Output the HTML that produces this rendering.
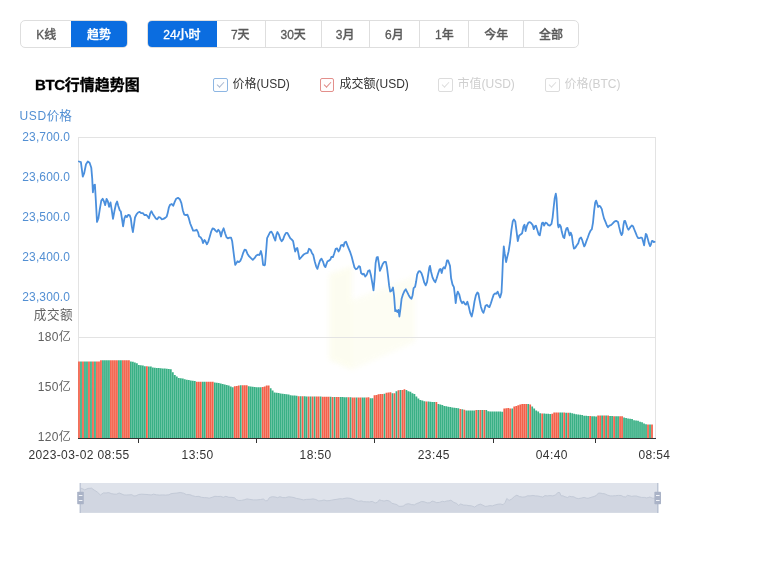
<!DOCTYPE html>
<html lang="zh-CN">
<head>
<meta charset="utf-8">
<title>BTC行情趋势图</title>
<style>
html,body{margin:0;padding:0;background:#fff;}
body{width:780px;height:563px;position:relative;overflow:hidden;font-family:"Liberation Sans","Noto Sans CJK SC",sans-serif;}
.tabs{position:absolute;top:20px;height:28px;display:flex;box-sizing:border-box;border:1px solid #dedede;border-radius:5px;overflow:hidden;background:#fff;}
.tabs span{display:block;box-sizing:border-box;height:26px;line-height:28px;font-size:12px;color:#5a5a5a;font-weight:500;-webkit-text-stroke:0.3px currentColor;text-align:center;border-left:1px solid #dedede;white-space:nowrap;}
.tabs span:first-child{border-left:none;}
.tabs span.on{background:#0b6de0;color:#fff;margin:-1px;height:28px;line-height:30px;border-left:none;}
.tabs span.on + span{border-left:none;}
#t1{left:20px;width:107.6px;}
#t2{left:147px;width:432px;}
h3{position:absolute;left:35px;top:74px;margin:0;font-size:15px;line-height:22px;font-weight:bold;color:#000;-webkit-text-stroke:0.3px #000;white-space:nowrap;}
.lg{position:absolute;top:75px;height:20px;line-height:20px;font-size:12px;color:#333;white-space:nowrap;}
.lg i{position:absolute;left:0;top:3px;width:12.6px;height:11.6px;border:1px solid #8db6e3;border-radius:2px;background:#fdfeff;}
.lg i:after{content:"";position:absolute;left:2.6px;top:2.8px;width:5.6px;height:2.8px;border-left:1px solid #a9b8d0;border-bottom:1px solid #a9b8d0;transform:rotate(-47deg);transform-origin:50% 50%;}
.lg b{font-weight:normal;position:absolute;left:19.5px;top:-1px;}
.lg.r i{border-color:#e38f8b;background:#fffdfd;width:11.8px;} .lg.r i:after{border-color:#df8a86;}
.lg.off{color:#cfcfcf;} .lg.off i{border-color:#dcdcdc;background:#fff;} .lg.off i:after{border-color:#dedede;}
svg{position:absolute;left:0;top:0;}
svg text{font-family:"Liberation Sans","Noto Sans CJK SC",sans-serif;}
</style>
</head>
<body>
<div class="tabs" id="t1"><span style="width:51px">K线</span><span class="on" style="width:57.6px">趋势</span></div>
<div class="tabs" id="t2"><span class="on" style="width:70px">24小时</span><span style="width:49px">7天</span><span style="width:56px">30天</span><span style="width:48px">3月</span><span style="width:51px">6月</span><span style="width:49px">1年</span><span style="width:55px">今年</span><span style="width:55px">全部</span></div>
<h3><span style="letter-spacing:-0.35px">BTC</span>行情趋势图</h3>
<div class="lg" style="left:213px"><i></i><b>价格(USD)</b></div>
<div class="lg r" style="left:320px"><i></i><b>成交额(USD)</b></div>
<div class="lg off" style="left:438px"><i></i><b>市值(USD)</b></div>
<div class="lg off" style="left:545px"><i></i><b>价格(BTC)</b></div>

<svg width="780" height="563" viewBox="0 0 780 563">
<defs><filter id="wb" x="-20%" y="-20%" width="140%" height="140%"><feGaussianBlur stdDeviation="2.5"/></filter></defs>
<g opacity="0.42" filter="url(#wb)"><path d="M329 274 L352 266 L352 370 L329 360 Z" fill="#fafadc"/><path d="M352 300 L415 276 L415 342 L352 370 Z" fill="#fbfbe4"/></g>
<g stroke="#e3e3e3" stroke-width="1" fill="none" shape-rendering="crispEdges">
<line x1="78" y1="137.5" x2="655" y2="137.5"/>
<line x1="78" y1="337.5" x2="655" y2="337.5"/>
<line x1="78.5" y1="137" x2="78.5" y2="438"/>
<line x1="655.5" y1="137" x2="655.5" y2="438"/>
</g>
<path fill="#39b085" d="M80.12 438V361.5h1.75V438zM84.11 438V361.5h1.75V438zM86.11 438V361.5h1.75V438zM90.10 438V361.5h1.75V438zM94.10 438V361.5h1.75V438zM102.08 438V360.2h1.75V438zM104.08 438V360.2h1.75V438zM106.07 438V360.2h1.75V438zM108.07 438V360.2h1.75V438zM118.05 438V360.2h1.75V438zM120.05 438V360.2h1.75V438zM130.03 438V361.5h1.75V438zM132.03 438V361.8h1.75V438zM134.03 438V362.6h1.75V438zM136.02 438V363.2h1.75V438zM138.02 438V365.0h1.75V438zM140.02 438V365.2h1.75V438zM142.01 438V365.4h1.75V438zM144.01 438V366.2h1.75V438zM148.00 438V366.5h1.75V438zM150.00 438V366.6h1.75V438zM152.00 438V367.6h1.75V438zM153.99 438V367.8h1.75V438zM155.99 438V367.9h1.75V438zM157.98 438V368.1h1.75V438zM159.98 438V368.2h1.75V438zM161.98 438V368.4h1.75V438zM163.97 438V368.6h1.75V438zM165.97 438V368.8h1.75V438zM167.97 438V369.0h1.75V438zM169.96 438V369.2h1.75V438zM171.96 438V372.2h1.75V438zM173.96 438V374.9h1.75V438zM175.95 438V376.6h1.75V438zM177.95 438V378.0h1.75V438zM179.95 438V378.3h1.75V438zM181.94 438V378.6h1.75V438zM183.94 438V379.3h1.75V438zM185.94 438V379.7h1.75V438zM187.93 438V380.0h1.75V438zM189.93 438V380.4h1.75V438zM191.93 438V380.7h1.75V438zM193.92 438V381.1h1.75V438zM201.91 438V381.8h1.75V438zM203.91 438V381.8h1.75V438zM213.89 438V382.5h1.75V438zM215.88 438V382.8h1.75V438zM217.88 438V383.1h1.75V438zM219.88 438V383.4h1.75V438zM221.87 438V384.1h1.75V438zM223.87 438V384.6h1.75V438zM225.87 438V385.0h1.75V438zM227.86 438V385.5h1.75V438zM229.86 438V386.5h1.75V438zM231.86 438V387.3h1.75V438zM239.84 438V385.3h1.75V438zM247.83 438V386.3h1.75V438zM249.83 438V386.5h1.75V438zM251.82 438V386.8h1.75V438zM253.82 438V387.0h1.75V438zM255.82 438V387.3h1.75V438zM257.81 438V387.3h1.75V438zM259.81 438V387.3h1.75V438zM269.79 438V388.2h1.75V438zM271.79 438V390.5h1.75V438zM273.78 438V392.4h1.75V438zM275.78 438V392.7h1.75V438zM277.78 438V393.0h1.75V438zM279.77 438V393.5h1.75V438zM281.77 438V393.7h1.75V438zM283.77 438V393.9h1.75V438zM285.76 438V394.2h1.75V438zM287.76 438V394.4h1.75V438zM289.76 438V395.3h1.75V438zM291.75 438V395.5h1.75V438zM293.75 438V395.6h1.75V438zM295.75 438V395.8h1.75V438zM299.74 438V396.2h1.75V438zM303.73 438V396.3h1.75V438zM305.73 438V396.4h1.75V438zM309.72 438V396.4h1.75V438zM313.71 438V396.5h1.75V438zM319.70 438V396.6h1.75V438zM329.69 438V396.8h1.75V438zM333.68 438V396.9h1.75V438zM339.67 438V397.1h1.75V438zM341.67 438V397.1h1.75V438zM343.66 438V397.2h1.75V438zM345.66 438V397.2h1.75V438zM349.65 438V397.3h1.75V438zM355.64 438V397.5h1.75V438zM361.63 438V397.6h1.75V438zM363.63 438V397.5h1.75V438zM369.62 438V398.2h1.75V438zM371.61 438V398.2h1.75V438zM383.59 438V393.7h1.75V438zM391.58 438V393.2h1.75V438zM395.57 438V391.3h1.75V438zM399.57 438V390.0h1.75V438zM405.56 438V390.0h1.75V438zM407.55 438V391.2h1.75V438zM409.55 438V391.8h1.75V438zM411.55 438V393.3h1.75V438zM413.54 438V394.0h1.75V438zM415.54 438V396.6h1.75V438zM417.54 438V398.6h1.75V438zM419.53 438V400.0h1.75V438zM421.53 438V400.6h1.75V438zM423.52 438V401.3h1.75V438zM427.52 438V401.6h1.75V438zM429.51 438V401.7h1.75V438zM431.51 438V401.9h1.75V438zM433.51 438V402.0h1.75V438zM437.50 438V404.0h1.75V438zM439.50 438V404.4h1.75V438zM441.49 438V404.9h1.75V438zM443.49 438V406.0h1.75V438zM445.49 438V406.3h1.75V438zM447.48 438V406.7h1.75V438zM449.48 438V407.0h1.75V438zM451.48 438V407.5h1.75V438zM453.47 438V407.8h1.75V438zM455.47 438V408.0h1.75V438zM457.47 438V408.3h1.75V438zM461.46 438V409.3h1.75V438zM465.45 438V410.4h1.75V438zM467.45 438V410.4h1.75V438zM469.45 438V410.5h1.75V438zM471.44 438V410.6h1.75V438zM473.44 438V410.6h1.75V438zM477.43 438V410.0h1.75V438zM481.42 438V410.1h1.75V438zM485.42 438V410.1h1.75V438zM487.41 438V411.3h1.75V438zM489.41 438V411.4h1.75V438zM491.41 438V411.4h1.75V438zM493.40 438V411.5h1.75V438zM495.40 438V411.5h1.75V438zM497.40 438V411.6h1.75V438zM499.39 438V411.6h1.75V438zM501.39 438V411.7h1.75V438zM511.37 438V408.4h1.75V438zM527.34 438V404.0h1.75V438zM531.34 438V406.6h1.75V438zM533.33 438V408.4h1.75V438zM535.33 438V410.6h1.75V438zM537.33 438V411.6h1.75V438zM539.32 438V413.2h1.75V438zM543.32 438V413.5h1.75V438zM545.31 438V413.7h1.75V438zM547.31 438V413.8h1.75V438zM549.31 438V414.0h1.75V438zM559.29 438V412.6h1.75V438zM561.29 438V412.6h1.75V438zM565.28 438V412.7h1.75V438zM569.27 438V412.7h1.75V438zM571.27 438V413.3h1.75V438zM573.27 438V413.7h1.75V438zM575.26 438V414.3h1.75V438zM577.26 438V414.5h1.75V438zM579.25 438V414.8h1.75V438zM581.25 438V415.0h1.75V438zM583.25 438V415.7h1.75V438zM585.24 438V415.8h1.75V438zM587.24 438V415.9h1.75V438zM591.23 438V416.2h1.75V438zM593.23 438V416.3h1.75V438zM595.23 438V416.4h1.75V438zM601.22 438V415.5h1.75V438zM605.21 438V415.4h1.75V438zM609.20 438V416.1h1.75V438zM611.20 438V416.1h1.75V438zM615.19 438V416.2h1.75V438zM617.19 438V416.2h1.75V438zM623.18 438V417.5h1.75V438zM625.18 438V418.0h1.75V438zM627.17 438V418.6h1.75V438zM629.17 438V418.8h1.75V438zM631.16 438V419.0h1.75V438zM633.16 438V420.2h1.75V438zM635.16 438V420.4h1.75V438zM637.15 438V420.7h1.75V438zM639.15 438V421.8h1.75V438zM641.15 438V422.2h1.75V438zM643.14 438V423.4h1.75V438zM645.14 438V424.3h1.75V438zM649.13 438V424.5h1.75V438z"/>
<path fill="#f3614a" d="M78.12 438V361.5h1.75V438zM82.12 438V361.5h1.75V438zM88.11 438V361.5h1.75V438zM92.10 438V361.5h1.75V438zM96.09 438V361.5h1.75V438zM98.09 438V361.5h1.75V438zM100.09 438V360.2h1.75V438zM110.07 438V360.2h1.75V438zM112.06 438V360.2h1.75V438zM114.06 438V360.2h1.75V438zM116.06 438V360.2h1.75V438zM122.05 438V360.2h1.75V438zM124.04 438V360.2h1.75V438zM126.04 438V360.2h1.75V438zM128.04 438V360.2h1.75V438zM146.01 438V366.3h1.75V438zM195.92 438V381.8h1.75V438zM197.92 438V381.8h1.75V438zM199.91 438V381.8h1.75V438zM205.90 438V381.8h1.75V438zM207.90 438V381.8h1.75V438zM209.89 438V381.8h1.75V438zM211.89 438V381.8h1.75V438zM233.85 438V386.2h1.75V438zM235.85 438V386.0h1.75V438zM237.85 438V385.4h1.75V438zM241.84 438V385.3h1.75V438zM243.84 438V385.2h1.75V438zM245.83 438V385.2h1.75V438zM261.80 438V387.0h1.75V438zM263.80 438V386.6h1.75V438zM265.80 438V385.6h1.75V438zM267.79 438V385.5h1.75V438zM297.74 438V396.2h1.75V438zM301.74 438V396.3h1.75V438zM307.73 438V396.4h1.75V438zM311.72 438V396.5h1.75V438zM315.71 438V396.6h1.75V438zM317.71 438V396.6h1.75V438zM321.70 438V396.7h1.75V438zM323.70 438V396.7h1.75V438zM325.69 438V396.8h1.75V438zM327.69 438V396.8h1.75V438zM331.68 438V396.9h1.75V438zM335.68 438V397.0h1.75V438zM337.67 438V397.0h1.75V438zM347.66 438V397.3h1.75V438zM351.65 438V397.4h1.75V438zM353.65 438V397.4h1.75V438zM357.64 438V397.5h1.75V438zM359.64 438V397.6h1.75V438zM365.62 438V397.4h1.75V438zM367.62 438V397.3h1.75V438zM373.61 438V395.3h1.75V438zM375.61 438V395.0h1.75V438zM377.60 438V394.2h1.75V438zM379.60 438V394.0h1.75V438zM381.60 438V393.9h1.75V438zM385.59 438V392.8h1.75V438zM387.59 438V392.5h1.75V438zM389.58 438V392.2h1.75V438zM393.58 438V393.3h1.75V438zM397.57 438V390.2h1.75V438zM401.56 438V389.9h1.75V438zM403.56 438V389.3h1.75V438zM425.52 438V401.5h1.75V438zM435.50 438V402.1h1.75V438zM459.46 438V408.9h1.75V438zM463.46 438V409.7h1.75V438zM475.43 438V410.0h1.75V438zM479.43 438V410.0h1.75V438zM483.42 438V410.1h1.75V438zM503.39 438V408.6h1.75V438zM505.38 438V408.3h1.75V438zM507.38 438V408.0h1.75V438zM509.38 438V408.6h1.75V438zM513.37 438V406.6h1.75V438zM515.37 438V406.0h1.75V438zM517.36 438V405.3h1.75V438zM519.36 438V404.6h1.75V438zM521.36 438V404.0h1.75V438zM523.35 438V404.0h1.75V438zM525.35 438V404.0h1.75V438zM529.34 438V404.6h1.75V438zM541.32 438V413.4h1.75V438zM551.30 438V413.8h1.75V438zM553.30 438V412.6h1.75V438zM555.30 438V412.5h1.75V438zM557.29 438V412.4h1.75V438zM563.28 438V412.6h1.75V438zM567.28 438V412.7h1.75V438zM589.24 438V416.0h1.75V438zM597.22 438V415.6h1.75V438zM599.22 438V415.6h1.75V438zM603.21 438V415.5h1.75V438zM607.21 438V415.4h1.75V438zM613.20 438V416.2h1.75V438zM619.19 438V416.3h1.75V438zM621.18 438V416.3h1.75V438zM647.14 438V424.4h1.75V438zM651.13 438V424.6h1.75V438z"/>
<g stroke="#333" stroke-width="1" shape-rendering="crispEdges"><line x1="78" y1="438.5" x2="656" y2="438.5"/>
<line x1="138.5" y1="438" x2="138.5" y2="443"/>
<line x1="256.5" y1="438" x2="256.5" y2="443"/>
<line x1="374.5" y1="438" x2="374.5" y2="443"/>
<line x1="493.5" y1="438" x2="493.5" y2="443"/>
<line x1="595.5" y1="438" x2="595.5" y2="443"/>
</g>
<polyline fill="none" stroke="#4a8fdd" stroke-width="1.8" stroke-linejoin="round" stroke-linecap="round" points="78.9,161.5 80.9,162.1 82.8,176.6 84.2,173.1 86.0,164.2 87.8,161.5 89.6,162.8 91.3,167.8 92.2,178.4 92.9,192.3 93.8,185.5 94.9,184.6 95.6,196.2 97.0,221.9 98.4,218.4 99.9,208.6 101.3,200.6 102.7,198.8 104.0,201.5 105.2,205.1 106.6,198.8 107.9,201.5 109.1,206.8 110.5,202.4 111.8,210.4 113.0,218.9 114.4,211.3 115.9,204.2 117.1,201.5 118.3,206.0 119.8,210.4 120.8,211.3 121.9,218.4 123.1,226.4 124.4,218.4 125.6,215.7 126.9,217.1 128.3,214.8 129.7,215.4 130.8,218.4 131.8,226.4 132.9,232.2 134.0,224.6 135.0,217.5 136.5,214.3 138.1,212.5 139.7,211.8 141.1,213.1 142.9,213.1 144.6,215.2 146.0,214.8 147.5,216.1 148.9,218.4 150.3,213.1 151.4,211.3 152.8,213.9 154.2,216.1 155.8,218.4 157.2,219.3 158.8,217.1 160.3,217.5 161.7,219.3 163.5,218.9 165.2,217.9 166.7,216.6 167.7,213.1 168.8,207.7 170.0,204.9 171.8,204.0 173.2,205.8 174.6,202.2 176.2,198.7 178.0,197.8 179.8,199.2 181.4,203.1 182.8,210.2 184.2,214.6 186.0,215.2 187.4,214.6 188.8,218.2 190.2,223.5 191.7,227.1 193.1,230.6 194.9,230.6 196.6,229.7 198.1,232.4 199.1,236.5 200.6,237.2 202.0,239.5 203.0,243.1 204.5,240.0 205.5,241.3 206.9,244.3 208.4,241.3 209.8,236.5 211.2,231.5 212.6,228.3 214.0,228.8 215.5,230.6 216.9,231.9 218.3,229.7 219.7,231.5 221.0,236.5 222.2,231.5 223.6,228.3 225.1,233.3 226.5,237.2 227.9,238.3 229.7,237.7 231.1,237.7 232.2,241.3 233.2,249.3 234.3,258.2 235.2,264.9 236.4,263.1 237.5,261.3 238.9,262.1 240.3,260.8 241.8,257.3 243.2,252.8 244.6,249.6 246.0,250.2 247.4,253.7 249.2,256.4 251.0,258.2 252.8,259.9 254.5,258.2 256.3,255.5 258.1,254.6 259.5,255.0 260.9,251.0 262.0,255.5 263.1,264.9 264.5,265.3 265.0,264.8 266.1,251.5 267.1,238.2 268.6,235.2 270.0,232.3 271.4,231.6 272.8,234.1 274.2,238.2 275.3,240.5 276.4,234.6 277.4,232.0 278.9,234.6 280.3,239.1 281.7,241.2 283.1,239.4 284.5,235.5 286.0,232.9 287.4,232.9 288.8,235.5 290.2,238.2 291.6,239.4 293.1,241.2 294.1,246.5 295.2,251.5 296.3,248.8 297.3,248.0 298.4,253.3 299.5,259.0 300.9,257.7 302.3,256.0 304.1,254.2 305.9,253.3 307.6,252.9 309.0,248.8 310.5,249.7 311.9,252.9 313.3,255.1 314.7,261.3 316.2,266.6 317.4,268.9 318.6,264.8 320.1,260.4 321.5,258.6 322.9,261.3 324.3,265.7 325.4,267.1 326.5,263.9 327.5,261.3 328.9,260.7 330.4,259.5 331.4,256.8 332.9,257.2 334.3,253.3 335.7,248.8 337.1,248.3 338.5,251.5 339.6,249.7 341.0,245.3 342.4,244.8 343.5,246.5 344.6,242.6 346.0,241.7 347.4,245.3 348.8,248.8 350.3,252.4 351.7,256.8 353.1,262.2 354.5,267.5 355.9,269.3 357.4,268.4 358.8,266.1 360.0,266.7 361.1,273.0 362.5,274.4 363.9,273.8 365.3,276.5 366.7,274.7 368.2,270.8 369.6,270.3 371.0,275.6 372.4,283.6 373.5,290.4 374.6,278.3 375.6,263.2 376.7,257.3 377.8,257.0 378.8,263.2 379.9,270.8 381.3,267.6 382.7,264.1 384.2,261.9 385.9,261.9 387.0,267.6 388.1,276.5 389.1,285.4 390.2,291.6 391.6,290.7 393.0,287.5 394.1,296.0 395.2,311.1 396.2,310.3 397.3,312.0 398.4,309.9 399.4,316.5 400.5,308.5 401.6,298.7 403.0,294.3 404.4,291.1 405.8,289.3 407.2,292.1 408.7,295.2 410.1,297.5 411.5,298.7 412.6,295.2 413.6,288.1 415.1,286.8 416.1,281.8 417.2,274.4 418.6,271.5 420.0,271.2 421.5,273.3 422.9,277.4 424.3,282.7 425.7,285.4 427.1,281.8 428.2,274.7 429.3,267.6 430.0,265.9 431.0,271.5 432.5,277.4 433.9,280.4 435.3,282.2 436.7,278.3 438.2,273.3 439.6,269.4 440.6,269.0 441.7,273.0 442.8,268.5 443.8,267.3 444.9,268.5 446.0,265.0 447.0,260.5 448.1,260.5 450.0,265.9 451.1,278.3 452.5,284.5 453.9,287.2 455.0,296.0 455.7,303.2 456.7,295.2 457.8,291.6 459.2,294.3 460.7,300.5 462.1,303.2 463.5,301.7 464.9,304.0 466.0,304.6 467.4,301.7 468.8,306.7 470.2,312.9 471.7,316.5 473.1,310.3 474.5,301.4 475.9,295.2 477.4,292.5 478.4,293.4 479.5,299.6 480.9,306.7 482.3,311.1 483.4,312.9 484.5,309.4 485.5,305.8 486.9,304.9 488.4,306.7 489.4,307.1 490.9,303.2 492.3,298.7 493.7,294.6 495.1,293.4 496.2,293.9 497.6,291.6 499.0,295.2 500.1,297.5 501.5,292.5 502.2,278.3 502.9,260.5 503.8,246.3 504.7,253.4 506.1,262.0 507.1,257.6 508.6,251.4 510.0,242.5 511.4,230.1 512.8,221.2 513.9,219.4 515.3,221.5 516.4,230.1 517.8,241.1 519.2,235.4 520.6,234.5 522.1,233.3 523.5,226.5 524.5,224.7 525.6,231.0 527.0,225.6 528.4,222.6 529.9,222.1 531.3,223.3 532.7,225.1 533.8,229.2 534.8,226.5 535.9,225.6 537.3,230.1 538.7,234.5 539.8,235.4 540.9,229.2 541.9,223.3 543.0,222.6 544.1,225.6 545.5,222.6 546.9,223.3 548.3,225.1 549.8,225.6 551.5,223.8 552.6,217.6 553.7,207.0 554.7,198.1 555.8,193.7 556.5,198.1 557.2,210.5 557.9,224.7 558.6,227.4 559.7,224.7 560.8,226.5 561.8,231.8 563.3,237.2 564.3,238.1 565.4,231.8 566.5,228.3 567.5,227.9 568.6,231.8 569.7,235.4 570.7,232.7 571.8,235.4 572.9,243.4 573.9,248.7 575.3,247.8 576.8,245.2 578.2,243.4 579.6,238.6 581.0,237.5 582.1,239.8 583.2,243.4 584.2,246.4 585.0,245.3 586.4,241.1 587.8,237.5 589.3,233.3 590.7,230.4 591.8,229.4 593.0,222.6 594.1,211.2 595.2,202.7 596.1,200.6 596.9,202.7 598.1,207.0 599.2,205.9 600.3,206.3 601.8,209.1 602.9,214.1 604.0,218.4 605.5,221.9 606.9,225.5 608.0,227.2 609.4,225.7 610.9,225.2 612.3,223.8 613.7,222.3 615.1,221.2 616.5,220.9 618.0,221.9 619.1,226.9 620.5,232.6 621.6,235.1 622.5,233.3 623.4,225.5 624.2,221.2 625.1,220.9 626.2,224.0 627.3,227.6 628.5,229.7 629.6,228.3 630.7,226.6 631.9,225.5 633.0,226.2 634.1,229.0 635.6,232.6 637.0,236.1 638.1,238.0 639.5,238.2 641.0,237.5 642.1,238.0 643.2,241.8 644.1,245.3 644.9,239.7 645.8,234.0 646.6,234.7 647.8,238.9 648.9,243.2 650.1,246.1 650.9,244.6 651.8,241.1 652.6,240.8 653.8,242.2 654.6,241.8"/>
<g font-size="12" fill="#528fd3" text-anchor="end" letter-spacing="0.12">
<text x="70" y="141">23,700.0</text>
<text x="70" y="181">23,600.0</text>
<text x="70" y="221">23,500.0</text>
<text x="70" y="261">23,400.0</text>
<text x="70" y="301">23,300.0</text>
</g>
<text x="19.6" y="120.2" font-size="12" fill="#528fd3"><tspan letter-spacing="0.6">USD</tspan><tspan font-size="12.6">价格</tspan></text>
<g font-size="12" fill="#606060" text-anchor="end" letter-spacing="0.3">
<text x="73.2" y="319" font-size="12.6" letter-spacing="0.55">成交额</text>
<text x="71" y="341">180亿</text>
<text x="71" y="391">150亿</text>
<text x="71" y="441">120亿</text>
</g>
<g font-size="12" fill="#333" text-anchor="middle" letter-spacing="0.4">
<text x="79" y="459">2023-03-02 08:55</text>
<text x="197.6" y="459">13:50</text>
<text x="315.6" y="459">18:50</text>
<text x="433.8" y="459">23:45</text>
<text x="551.8" y="459">04:40</text>
<text x="654.4" y="459">08:54</text>
</g>
<rect x="80" y="483" width="578.3" height="29.8" fill="#dfe3eb"/>
<path d="M80 512.8 L80 488.1 L80.9 488.1 L84.8 489.9 L88.0 488.4 L91.6 488.2 L94.2 490.1 L95.8 491.0 L97.6 492.3 L100.4 495.0 L103.4 492.9 L106.1 493.0 L108.7 492.6 L111.2 493.6 L113.9 494.1 L116.5 494.2 L119.2 493.0 L121.9 494.1 L124.0 495.0 L126.5 495.0 L129.0 494.9 L131.8 494.7 L133.9 496.0 L136.1 495.8 L138.6 494.5 L141.8 494.2 L145.0 494.4 L148.2 494.6 L151.1 495.0 L153.6 494.2 L156.4 494.8 L159.4 495.1 L162.5 494.9 L165.7 495.1 L168.9 494.8 L171.0 493.7 L174.0 493.3 L176.8 493.1 L180.2 492.5 L183.6 493.2 L186.4 494.6 L189.6 494.6 L192.5 495.7 L195.4 496.5 L198.9 496.4 L201.4 497.3 L204.3 497.6 L206.8 497.7 L209.2 498.2 L212.1 497.3 L214.9 496.3 L217.8 496.5 L220.6 496.4 L223.3 497.3 L225.9 496.3 L228.8 497.3 L232.0 497.4 L234.5 497.8 L236.7 499.9 L238.8 500.5 L241.3 500.4 L244.2 499.8 L247.0 498.9 L249.8 499.4 L253.4 499.9 L256.9 499.9 L260.5 499.5 L263.3 499.0 L265.5 500.7 L267.4 500.7 L269.5 497.5 L272.4 496.7 L275.2 497.0 L277.7 497.7 L279.8 496.7 L282.8 497.6 L285.6 497.6 L288.5 496.8 L291.3 497.1 L294.1 497.6 L296.6 498.5 L298.8 498.8 L300.9 499.3 L303.4 499.9 L306.6 499.4 L310.1 499.3 L313.0 498.9 L315.8 499.5 L318.7 500.9 L321.1 500.7 L324.0 500.0 L326.9 500.8 L329.1 500.6 L331.5 500.2 L334.0 499.7 L336.9 499.3 L339.7 498.7 L342.2 498.9 L345.0 498.3 L347.2 498.0 L350.0 498.3 L352.9 499.2 L355.7 500.4 L358.5 501.3 L361.4 500.9 L363.7 501.7 L366.5 501.8 L369.4 501.9 L372.3 501.4 L375.1 503.0 L377.3 502.4 L379.4 499.8 L381.5 500.5 L384.0 501.1 L386.9 500.4 L389.7 501.1 L391.8 503.3 L394.3 503.9 L396.8 504.6 L398.9 506.3 L401.1 506.3 L403.2 506.1 L405.7 504.3 L408.5 503.7 L411.4 504.5 L414.3 504.9 L416.4 503.6 L418.9 502.8 L421.4 501.5 L424.3 501.8 L427.1 502.9 L429.9 502.8 L432.1 501.1 L433.8 501.5 L436.7 502.6 L439.5 502.4 L442.4 501.3 L444.5 501.7 L446.6 501.0 L448.8 500.8 L450.9 500.2 L453.9 502.4 L456.7 503.5 L458.6 505.4 L460.7 504.0 L463.6 505.1 L466.4 505.2 L468.9 505.6 L471.7 505.9 L474.6 507.1 L477.4 505.2 L480.3 504.1 L482.4 505.0 L485.2 506.4 L487.4 506.2 L489.8 505.6 L492.3 505.9 L495.2 504.9 L498.0 504.2 L500.5 504.0 L503.1 504.7 L505.2 502.4 L506.8 498.5 L509.1 500.4 L511.6 499.1 L514.4 496.5 L516.9 495.2 L519.4 496.5 L522.2 497.1 L525.1 496.9 L527.5 495.8 L530.0 495.9 L532.9 495.5 L535.7 495.9 L537.8 496.0 L540.3 496.5 L542.8 497.1 L544.9 495.6 L547.2 495.9 L550.0 495.6 L552.9 495.9 L555.7 494.9 L557.8 492.5 L559.6 492.5 L561.0 495.8 L562.8 495.8 L564.9 496.7 L567.4 497.5 L569.6 496.3 L571.7 496.7 L573.8 496.8 L576.0 498.1 L578.4 498.6 L581.3 498.1 L584.1 497.4 L586.3 498.1 L588.1 498.3 L590.9 497.4 L593.9 496.5 L596.2 495.6 L598.4 493.1 L600.1 493.1 L602.4 493.5 L605.0 493.9 L607.2 495.0 L610.1 495.9 L612.6 495.9 L615.5 495.7 L618.3 495.4 L621.2 495.5 L623.7 496.8 L625.7 496.9 L627.4 495.4 L629.4 495.7 L631.7 496.4 L633.9 496.0 L636.3 496.0 L638.9 496.8 L641.4 497.4 L644.3 497.4 L646.5 497.9 L648.2 497.6 L649.9 497.0 L652.2 498.1 L654.2 498.2 L655.9 497.8 L657.9 497.9 L658.3 497.9 L658.3 512.8 Z" fill="#d1d6e1"/>
<polyline fill="none" stroke="#c3cad7" stroke-width="1" points="80.9,488.1 84.8,489.9 88.0,488.4 91.6,488.2 94.2,490.1 95.8,491.0 97.6,492.3 100.4,495.0 103.4,492.9 106.1,493.0 108.7,492.6 111.2,493.6 113.9,494.1 116.5,494.2 119.2,493.0 121.9,494.1 124.0,495.0 126.5,495.0 129.0,494.9 131.8,494.7 133.9,496.0 136.1,495.8 138.6,494.5 141.8,494.2 145.0,494.4 148.2,494.6 151.1,495.0 153.6,494.2 156.4,494.8 159.4,495.1 162.5,494.9 165.7,495.1 168.9,494.8 171.0,493.7 174.0,493.3 176.8,493.1 180.2,492.5 183.6,493.2 186.4,494.6 189.6,494.6 192.5,495.7 195.4,496.5 198.9,496.4 201.4,497.3 204.3,497.6 206.8,497.7 209.2,498.2 212.1,497.3 214.9,496.3 217.8,496.5 220.6,496.4 223.3,497.3 225.9,496.3 228.8,497.3 232.0,497.4 234.5,497.8 236.7,499.9 238.8,500.5 241.3,500.4 244.2,499.8 247.0,498.9 249.8,499.4 253.4,499.9 256.9,499.9 260.5,499.5 263.3,499.0 265.5,500.7 267.4,500.7 269.5,497.5 272.4,496.7 275.2,497.0 277.7,497.7 279.8,496.7 282.8,497.6 285.6,497.6 288.5,496.8 291.3,497.1 294.1,497.6 296.6,498.5 298.8,498.8 300.9,499.3 303.4,499.9 306.6,499.4 310.1,499.3 313.0,498.9 315.8,499.5 318.7,500.9 321.1,500.7 324.0,500.0 326.9,500.8 329.1,500.6 331.5,500.2 334.0,499.7 336.9,499.3 339.7,498.7 342.2,498.9 345.0,498.3 347.2,498.0 350.0,498.3 352.9,499.2 355.7,500.4 358.5,501.3 361.4,500.9 363.7,501.7 366.5,501.8 369.4,501.9 372.3,501.4 375.1,503.0 377.3,502.4 379.4,499.8 381.5,500.5 384.0,501.1 386.9,500.4 389.7,501.1 391.8,503.3 394.3,503.9 396.8,504.6 398.9,506.3 401.1,506.3 403.2,506.1 405.7,504.3 408.5,503.7 411.4,504.5 414.3,504.9 416.4,503.6 418.9,502.8 421.4,501.5 424.3,501.8 427.1,502.9 429.9,502.8 432.1,501.1 433.8,501.5 436.7,502.6 439.5,502.4 442.4,501.3 444.5,501.7 446.6,501.0 448.8,500.8 450.9,500.2 453.9,502.4 456.7,503.5 458.6,505.4 460.7,504.0 463.6,505.1 466.4,505.2 468.9,505.6 471.7,505.9 474.6,507.1 477.4,505.2 480.3,504.1 482.4,505.0 485.2,506.4 487.4,506.2 489.8,505.6 492.3,505.9 495.2,504.9 498.0,504.2 500.5,504.0 503.1,504.7 505.2,502.4 506.8,498.5 509.1,500.4 511.6,499.1 514.4,496.5 516.9,495.2 519.4,496.5 522.2,497.1 525.1,496.9 527.5,495.8 530.0,495.9 532.9,495.5 535.7,495.9 537.8,496.0 540.3,496.5 542.8,497.1 544.9,495.6 547.2,495.9 550.0,495.6 552.9,495.9 555.7,494.9 557.8,492.5 559.6,492.5 561.0,495.8 562.8,495.8 564.9,496.7 567.4,497.5 569.6,496.3 571.7,496.7 573.8,496.8 576.0,498.1 578.4,498.6 581.3,498.1 584.1,497.4 586.3,498.1 588.1,498.3 590.9,497.4 593.9,496.5 596.2,495.6 598.4,493.1 600.1,493.1 602.4,493.5 605.0,493.9 607.2,495.0 610.1,495.9 612.6,495.9 615.5,495.7 618.3,495.4 621.2,495.5 623.7,496.8 625.7,496.9 627.4,495.4 629.4,495.7 631.7,496.4 633.9,496.0 636.3,496.0 638.9,496.8 641.4,497.4 644.3,497.4 646.5,497.9 648.2,497.6 649.9,497.0 652.2,498.1 654.2,498.2 655.9,497.8 657.9,497.9"/>
<rect x="79.6" y="483" width="1.1" height="30" fill="#b4bdcf"/><rect x="657.2" y="483" width="1.1" height="30" fill="#b4bdcf"/>
<rect x="77.2" y="491.8" width="6.6" height="12.4" rx="0.8" fill="#aab3c7"/>
<rect x="78.8" y="495" width="3.6" height="1" fill="#f2f4f8"/><rect x="78.8" y="500" width="3.6" height="1" fill="#f2f4f8"/>
<rect x="654.4" y="491.8" width="6.6" height="12.4" rx="0.8" fill="#aab3c7"/>
<rect x="656.0" y="495" width="3.6" height="1" fill="#f2f4f8"/><rect x="656.0" y="500" width="3.6" height="1" fill="#f2f4f8"/>
</svg>
</body></html>
